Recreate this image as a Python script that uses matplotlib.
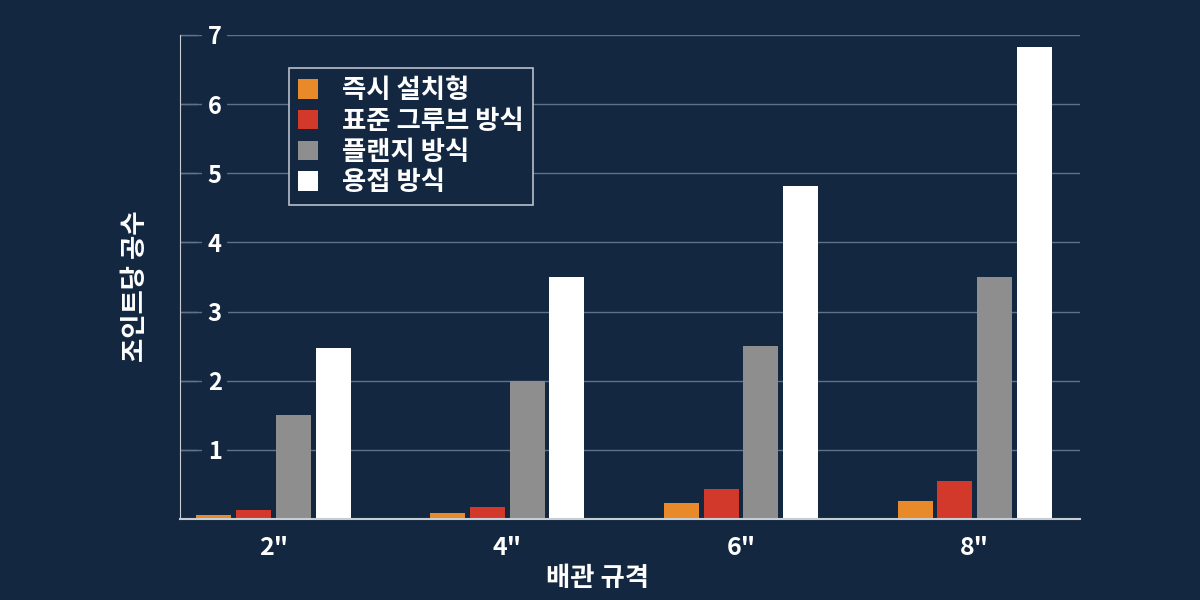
import matplotlib

matplotlib.use("Agg")
import matplotlib.pyplot as plt
import numpy as np

plt.rcParams["font.family"] = ["Noto Sans CJK KR", "DejaVu Sans"]

BG = "#132840"
FG = "white"

sizes = ['2"', '4"', '6"', '8"']
series_names = ["즉시 설치형", "표준 그루브 방식", "플랜지 방식", "용접 방식"]
instant = [0.06, 0.09, 0.23, 0.26]
groove = [0.13, 0.17, 0.44, 0.55]
flange = [1.5, 2.0, 2.5, 3.5]
welding = [2.47, 3.5, 4.82, 6.82]
colors = ["#e8892a", "#d2392a", "#8e8e8e", "#ffffff"]
y_ticks = [1, 2, 3, 4, 5, 6, 7]

fig = plt.figure(figsize=(12, 6), dpi=100, facecolor=BG)
ax = fig.add_axes([0.15, 0.135, 0.75, 0.8067], facecolor=BG)

x = np.arange(len(sizes))
width = 0.15
step = 0.17
for i, (vals, name, col) in enumerate(zip([instant, groove, flange, welding], series_names, colors)):
    ax.bar(x + (i - 1.5) * step, vals, width, color=col, label=name, zorder=2)

ax.set_xlim(-0.4, 3.45)
ax.set_ylim(0, 7)
ax.set_xticks(x)
ax.set_xticklabels(sizes, fontsize=18, fontweight="bold", color=FG)
ax.set_yticks(y_ticks)
ax.set_yticklabels([str(v) for v in y_ticks], fontsize=17, fontweight="bold", color=FG)
ax.tick_params(axis="x", length=0, pad=12)
ax.tick_params(axis="y", direction="in", length=12, width=1, color="#5f7288", pad=-20)
for lbl in ax.get_yticklabels():
    lbl.set_horizontalalignment("left")
    lbl.set_bbox(dict(facecolor=BG, edgecolor="none", pad=4))

ax.grid(axis="y", color="#5f7288", linewidth=1)
ax.set_axisbelow(True)
for side in ["top", "right"]:
    ax.spines[side].set_visible(False)
ax.spines["left"].set_color("#c8cdd4")
ax.spines["bottom"].set_color("#c8cdd4")
ax.spines["bottom"].set_linewidth(1.5)

ax.set_xlabel("배관 규격", fontsize=19, fontweight="bold", color=FG)
ax.xaxis.set_label_coords(0.464, -0.095)
ax.set_ylabel("조인트당 공수", fontsize=19, fontweight="bold", color=FG)
ax.yaxis.set_label_coords(-0.034, 0.48)

leg = ax.legend(loc="upper left", bbox_to_anchor=(0.121, 0.932), fancybox=False,
                facecolor=BG, edgecolor="#b8bfc8", framealpha=1,
                prop={"size": 19, "weight": "bold"}, labelcolor=FG,
                handlelength=0.75, handleheight=0.75, handletextpad=0.9,
                labelspacing=0.14, borderpad=0.35, borderaxespad=0)
leg.get_frame().set_linewidth(1.2)

fig.savefig("out.png", dpi=100, facecolor=BG)
